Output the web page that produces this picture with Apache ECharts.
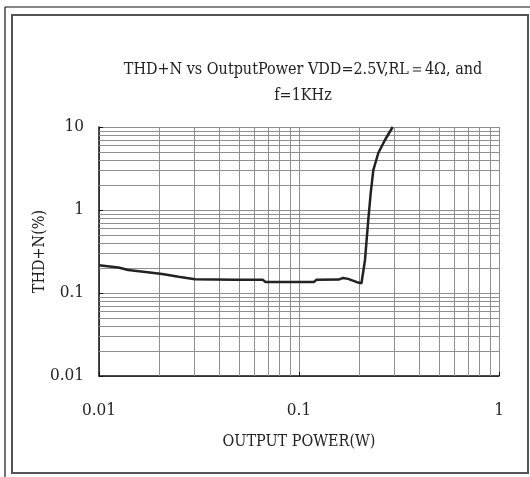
<!DOCTYPE html>
<html>
<head>
<meta charset="utf-8">
<script src="https://cdn.jsdelivr.net/npm/echarts@6/dist/echarts.min.js"></script>
<style>html,body{margin:0;padding:0;background:#fff;}#c{width:530px;height:477px;}</style>
</head>
<body>
<div id="c"></div>
<script>
// Data
const outputPower = [0.01, 0.0125, 0.014, 0.0175, 0.0207, 0.025, 0.0302, 0.0479, 0.066, 0.068, 0.119, 0.122, 0.158, 0.166, 0.176, 0.195, 0.2053, 0.2138, 0.222, 0.2283, 0.2353, 0.2492, 0.269, 0.294];
const thdN        = [0.216, 0.203, 0.189, 0.178, 0.169, 0.157, 0.146, 0.144, 0.144, 0.136, 0.136, 0.144, 0.145, 0.152, 0.148, 0.135, 0.131, 0.25, 0.758, 1.60, 3.03, 4.86, 6.97, 10];
const xMinorGrid = [0.02,0.03,0.04,0.05,0.06,0.07,0.08,0.09,0.2,0.3,0.4,0.5,0.6,0.7,0.8,0.9];
const yMinorGrid = [0.02,0.03,0.04,0.05,0.06,0.07,0.08,0.09,0.2,0.3,0.4,0.5,0.6,0.7,0.8,0.9,2,3,4,5,6,7,8,9];
const xTickLabels = {0.01:'0.01', 0.1:'0.1', 1:'1'};
const yTickLabels = {0.01:'0.01', 0.1:'0.1', 1:'1', 10:'10'};

const FONT = "'DejaVu Serif Condensed','Liberation Serif',serif";
const chart = echarts.init(document.getElementById('c'), null, {renderer:'canvas'});
const gridColor = '#8e8e8e';
const markData = xMinorGrid.map(v => ({xAxis: v})).concat(yMinorGrid.map(v => ({yAxis: v})));

chart.setOption({
  animation: false,
  backgroundColor: '#fff',
  title: {
    text: 'THD+N vs OutputPower VDD=2.5V,RL\uFF1D4\u03A9, and\nf=1KHz',
    left: 298, top: 52, textAlign: 'center',
    textStyle: {fontFamily: FONT, fontSize: 16, fontWeight: 'normal', color: '#222', lineHeight: 26}
  },
  grid: {left: 99, right: 31, top: 127, bottom: 101},
  xAxis: {
    type: 'log', logBase: 10, min: 0.01, max: 1,
    name: 'OUTPUT POWER(W)', nameLocation: 'middle', nameGap: 58, nameMoveOverlap: false,
    nameTextStyle: {fontFamily: FONT, fontSize: 16, color: '#222'},
    axisLine: {show: true, lineStyle: {color: '#111', width: 1.5}},
    axisTick: {show: true, inside: true, length: 4, lineStyle: {color: '#111'}},
    axisLabel: {fontFamily: FONT, fontSize: 17, color: '#222', margin: 26,
      formatter: v => xTickLabels[+v.toPrecision(3)] || ''},
    splitLine: {show: true, lineStyle: {color: gridColor, width: 1}}
  },
  yAxis: {
    type: 'log', logBase: 10, min: 0.01, max: 10,
    name: 'THD+N(%)', nameLocation: 'middle', nameGap: 51, nameRotate: 90, nameMoveOverlap: false,
    nameTextStyle: {fontFamily: FONT, fontSize: 16, color: '#222'},
    axisLine: {show: true, lineStyle: {color: '#111', width: 1.5}},
    axisTick: {show: true, inside: true, length: 4, lineStyle: {color: '#111'}},
    axisLabel: {fontFamily: FONT, fontSize: 17, color: '#222', margin: 15,
      formatter: v => yTickLabels[+v.toPrecision(3)] || ''},
    splitLine: {show: true, lineStyle: {color: gridColor, width: 1}}
  },
  series: [
    {
      type: 'line', data: [], silent: true,
      markLine: {silent: true, symbol: 'none', label: {show: false},
        lineStyle: {color: gridColor, width: 1, type: 'solid'}, data: markData}
    },
    {
      type: 'line', showSymbol: false, symbol: 'none',
      data: outputPower.map((p, i) => [p, thdN[i]]),
      lineStyle: {color: '#222', width: 2.5}, z: 5
    }
  ],
  graphic: [
    {type: 'line', shape: {x1: 5, y1: 7, x2: 530, y2: 7}, style: {stroke: '#111', lineWidth: 1.2}, silent: true},
    {type: 'line', shape: {x1: 5, y1: 7, x2: 5, y2: 477}, style: {stroke: '#111', lineWidth: 1.2}, silent: true},
    {type: 'rect', shape: {x: 12, y: 15, width: 516, height: 458}, style: {stroke: '#555', lineWidth: 2, fill: null}, silent: true}
  ]
});
</script>
</body>
</html>
